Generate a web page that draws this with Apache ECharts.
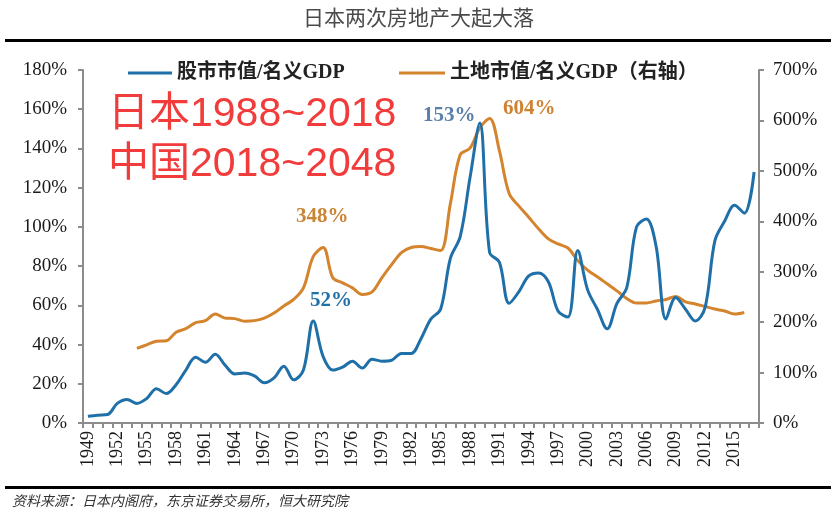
<!DOCTYPE html>
<html>
<head>
<meta charset="utf-8">
<script src="https://cdn.jsdelivr.net/npm/echarts@6/dist/echarts.min.js"></script>
<style>
html,body{margin:0;padding:0;background:#fff;}
#chart{width:831px;height:522px;}
</style>
</head>
<body>
<div id="chart"></div>
<script>
// Categories: years 1949-2017
var years = [];
for (var y = 1949; y <= 2017; y++) years.push(String(y));

// 股市市值/名义GDP (%), left axis
var stockValues = [
  3.5, 4, 4.3, 10, 12, 10, 12.5, 17.5, 15, 19.5,      // 1949-1958
  27, 33.5, 31, 35, 29.5, 25, 25.5, 24, 20.5, 23,     // 1959-1968
  29, 22, 27, 52, 34, 27, 28.5, 31.5, 28, 32.5,       // 1969-1978
  31.5, 32, 35.5, 35.5, 43, 53, 58, 84, 95, 125,      // 1979-1988
  153, 87, 82, 61, 67, 75, 76.5, 72, 57, 54,          // 1989-1998
  88, 68, 58, 48, 61, 69, 100, 104, 90, 53,           // 1999-2008
  64, 58, 52, 59, 93, 103, 111, 107, 128              // 2009-2017
];

// 土地市值/名义GDP (%), right axis
var landValues = [
  null, null, null, null, null, 148, 155, 162, 163, 180,   // 1949-1958
  187, 199, 203, 216, 208, 207, 202, 203, 208, 218,        // 1959-1968
  232, 245, 268, 330, 348, 288, 278, 268, 255, 260,        // 1969-1978
  288, 314, 338, 348, 350, 346, 342, 435, 532, 545,        // 1979-1988
  585, 604, 540, 455, 430, 408, 385, 365, 355, 347,        // 1989-1998
  322, 303, 290, 276, 262, 247, 238, 238, 242, 245,        // 1999-2008
  251, 240, 236, 231, 226, 222, 216, 219, null             // 2009-2017
];

var leftTicks = { min: 0, max: 180, interval: 20 };
var rightTicks = { min: 0, max: 700, interval: 100 };

var seriesNames = ['股市市值/名义GDP', '土地市值/名义GDP（右轴）'];
var titleText = '日本两次房地产大起大落';
var sourceText = '资料来源：日本内阁府，东京证券交易所，恒大研究院';
var overlayLines = ['日本1988~2018', '中国2018~2048'];
var peakLabels = ['153%', '604%', '348%', '52%'];

var BLUE = '#1f6fa8';
var ORANGE = '#d5842e';
var AXIS = '#8c8c8c';
var SERIF = '"Liberation Serif", "Times New Roman", "Noto Sans CJK SC", serif';
var LEG = '"Liberation Serif", "Noto Sans CJK SC", serif';
var RED_FONT = '"Liberation Sans", "Noto Sans CJK SC", sans-serif';

var chart = echarts.init(document.getElementById('chart'), null, { renderer: 'canvas' });

var axisCommon = {
  axisLine: { show: true, lineStyle: { color: AXIS, width: 2 } },
  axisTick: { show: true, length: 5, lineStyle: { color: AXIS, width: 2 } },
  splitLine: { show: false },
  axisLabel: { color: '#1a1a1a', fontFamily: SERIF, fontSize: 19, formatter: '{value}%' }
};

var option = {
  backgroundColor: '#ffffff',
  animation: false,
  grid: { left: 83, right: 72, top: 70, bottom: 99, containLabel: false },
  legend: [
    {
      data: [seriesNames[0]], left: 123, top: 58,
      icon: 'rect', itemWidth: 44, itemHeight: 3, itemGap: 6,
      textStyle: { fontFamily: LEG, fontWeight: 'bold', fontSize: 20, color: '#222' }
    },
    {
      data: [seriesNames[1]], left: 394, top: 58,
      icon: 'rect', itemWidth: 46, itemHeight: 3, itemGap: 6,
      textStyle: { fontFamily: LEG, fontWeight: 'bold', fontSize: 20, color: '#222' }
    }
  ],
  xAxis: {
    type: 'category',
    data: years,
    boundaryGap: true,
    axisLine: { show: true, lineStyle: { color: AXIS, width: 2 } },
    axisTick: { show: true, interval: 0, length: 5, lineStyle: { color: AXIS, width: 2 } },
    axisLabel: { interval: 2, rotate: 90, color: '#1a1a1a', fontFamily: SERIF, fontSize: 18, margin: 8 },
    splitLine: { show: false }
  },
  yAxis: [
    Object.assign({ type: 'value', position: 'left', min: leftTicks.min, max: leftTicks.max, interval: leftTicks.interval }, axisCommon,
      { axisLabel: Object.assign({}, axisCommon.axisLabel, { margin: 16 }) }),
    Object.assign({ type: 'value', position: 'right', min: rightTicks.min, max: rightTicks.max, interval: rightTicks.interval }, axisCommon,
      { axisLabel: Object.assign({}, axisCommon.axisLabel, { margin: 14 }) })
  ],
  series: [
    {
      name: seriesNames[0], type: 'line', yAxisIndex: 0, data: stockValues,
      smooth: 0.35, showSymbol: false, symbol: 'none',
      lineStyle: { color: BLUE, width: 3 }, itemStyle: { color: BLUE }, z: 3
    },
    {
      name: seriesNames[1], type: 'line', yAxisIndex: 1, data: landValues,
      smooth: 0.35, showSymbol: false, symbol: 'none', connectNulls: false,
      lineStyle: { color: ORANGE, width: 3 }, itemStyle: { color: ORANGE }, z: 2
    }
  ],
  graphic: [
    { type: 'text', left: 303, top: 7, style: { text: titleText, fontFamily: '"Noto Sans CJK SC", sans-serif', fontSize: 21, fill: '#4a4a4a' } },
    { type: 'rect', shape: { x: 5, y: 39, width: 826, height: 3 }, style: { fill: '#000' } },
    { type: 'rect', shape: { x: 5, y: 486, width: 826, height: 3 }, style: { fill: '#000' } },
    { type: 'text', left: 12, top: 494, style: { text: sourceText, fontFamily: '"Noto Sans CJK SC", sans-serif', fontStyle: 'italic', fontSize: 14, fill: '#333' } },
    { type: 'text', left: 108, top: 94, z: 10, style: { text: overlayLines[0], fontFamily: RED_FONT, fontSize: 41, fill: '#f23b3b' } },
    { type: 'text', left: 108, top: 144, z: 10, style: { text: overlayLines[1], fontFamily: RED_FONT, fontSize: 41, fill: '#f23b3b' } },
    { type: 'text', left: 423, top: 105, z: 10, style: { text: peakLabels[0], fontFamily: SERIF, fontWeight: 'bold', fontSize: 21, fill: '#5a80a8' } },
    { type: 'text', left: 503, top: 98, z: 10, style: { text: peakLabels[1], fontFamily: SERIF, fontWeight: 'bold', fontSize: 21, fill: '#cf8232' } },
    { type: 'text', left: 296, top: 206, z: 10, style: { text: peakLabels[2], fontFamily: SERIF, fontWeight: 'bold', fontSize: 21, fill: '#c98536' } },
    { type: 'text', left: 310, top: 290, z: 10, style: { text: peakLabels[3], fontFamily: SERIF, fontWeight: 'bold', fontSize: 21, fill: '#1f6fa8' } }
  ]
};

chart.setOption(option);
</script>
</body>
</html>
